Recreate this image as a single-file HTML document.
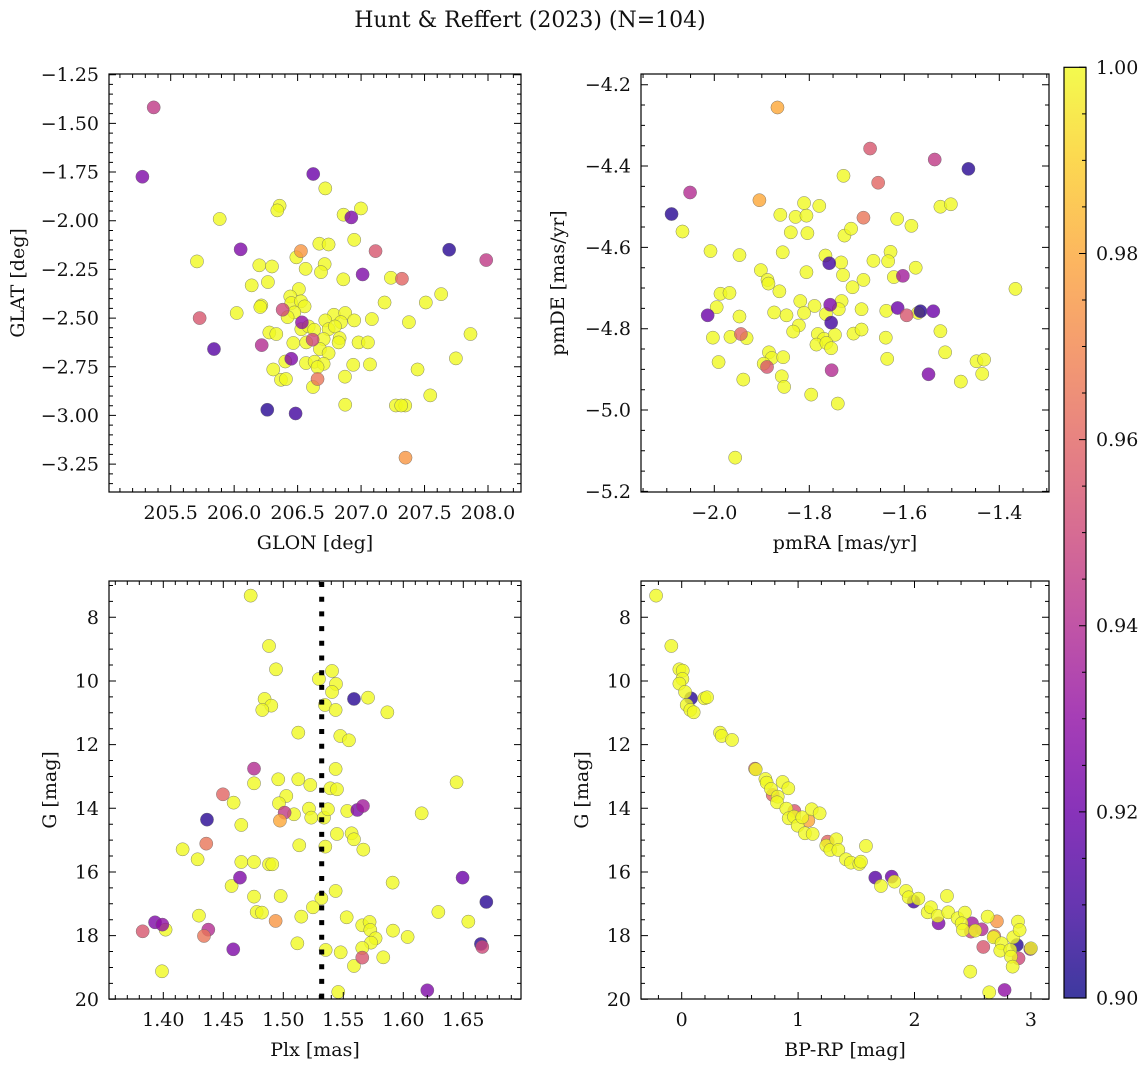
<!DOCTYPE html>
<html><head><meta charset="utf-8"><style>
html,body{margin:0;padding:0;background:#fff;}
svg text{font-family:"DejaVu Serif","Liberation Serif",serif;fill:#111;}
</style></head><body>
<svg id="fig" width="1148" height="1067" viewBox="0 0 1148 1067" xmlns="http://www.w3.org/2000/svg">
<defs>
<linearGradient id="plasma" x1="0" y1="1" x2="0" y2="0">
<stop offset="0" stop-color="#0d0887"/><stop offset="0.1" stop-color="#41049d"/><stop offset="0.2" stop-color="#6a00a8"/><stop offset="0.3" stop-color="#8f0da4"/><stop offset="0.4" stop-color="#b12a90"/><stop offset="0.5" stop-color="#cc4778"/><stop offset="0.6" stop-color="#e16462"/><stop offset="0.7" stop-color="#f2844b"/><stop offset="0.8" stop-color="#fca636"/><stop offset="0.9" stop-color="#fcce25"/><stop offset="1" stop-color="#f0f921"/>
</linearGradient>
</defs>
<text x="530" y="27" font-size="22" text-anchor="middle">Hunt &amp; Reffert (2023) (N=104)</text>
</svg>
<script>
// ---- Panel 1: GLON / GLAT ----
const p1LonHi=[206.718,206.358,206.340,206.999,206.862,205.886,206.946,206.671,206.744,205.707,206.490,206.198,206.298,206.563,206.713,206.684,206.860,207.235,206.138,206.266,206.510,206.442,206.450,206.526,206.555,206.214,206.206,206.020,206.474,206.421,207.185,207.510,207.631,206.786,206.875,206.718,206.841,206.946,207.085,207.377,206.529,206.587,206.631,206.744,206.794,206.277,206.332,207.862,206.705,206.831,206.823,206.466,206.568,206.980,207.054,206.676,206.744,206.403,206.566,206.634,206.705,206.657,206.938,207.070,206.308,207.445,207.747,206.369,206.408,206.873,206.621,207.545,206.875,207.274,207.348,207.316];
const p1LatHi=[-1.834,-1.923,-1.947,-1.937,-1.969,-1.991,-2.098,-2.118,-2.122,-2.209,-2.188,-2.229,-2.235,-2.247,-2.223,-2.264,-2.301,-2.293,-2.332,-2.315,-2.351,-2.389,-2.423,-2.414,-2.440,-2.435,-2.443,-2.474,-2.471,-2.495,-2.420,-2.420,-2.377,-2.483,-2.474,-2.512,-2.521,-2.512,-2.505,-2.521,-2.557,-2.543,-2.560,-2.557,-2.543,-2.574,-2.582,-2.582,-2.608,-2.603,-2.625,-2.628,-2.625,-2.625,-2.625,-2.659,-2.680,-2.723,-2.731,-2.724,-2.735,-2.752,-2.740,-2.738,-2.764,-2.764,-2.707,-2.817,-2.813,-2.801,-2.854,-2.897,-2.945,-2.949,-2.949,-2.949];
const p1Lon=[205.366,205.277,206.623,206.923,206.051,206.526,207.114,207.694,207.986,207.012,207.322,205.728,206.382,206.534,206.618,206.217,205.841,206.450,206.657,206.261,206.484,207.350];
const p1Lat=[-1.418,-1.774,-1.760,-1.983,-2.147,-2.156,-2.156,-2.149,-2.202,-2.276,-2.298,-2.500,-2.457,-2.522,-2.611,-2.639,-2.659,-2.709,-2.813,-2.971,-2.990,-3.217];
const p1Prob=[0.945,0.925,0.92,0.925,0.925,0.975,0.955,0.905,0.945,0.925,0.96,0.955,0.95,0.93,0.95,0.94,0.915,0.925,0.965,0.905,0.91,0.975];
const p1XTicks=["205.5","206.0","206.5","207.0","207.5","208.0"];
const p1YTicks=["-1.25","-1.50","-1.75","-2.00","-2.25","-2.50","-2.75","-3.00","-3.25"];

// ---- Panel 2: pmRA / pmDE ----
const p2RaHi=[-1.728,-1.811,-1.779,-1.861,-1.829,-1.806,-1.839,-1.804,-1.726,-1.712,-1.615,-1.585,-1.524,-1.502,-2.067,-2.008,-1.947,-1.856,-1.766,-1.733,-1.665,-1.629,-1.634,-1.576,-1.902,-1.806,-1.888,-1.886,-1.729,-1.686,-1.622,-1.863,-1.709,-1.987,-1.968,-1.366,-1.995,-1.819,-1.789,-1.732,-1.738,-1.765,-1.874,-1.848,-1.811,-1.690,-1.638,-1.571,-1.947,-1.822,-1.834,-2.003,-1.966,-1.932,-1.782,-1.769,-1.746,-1.707,-1.690,-1.639,-1.524,-1.785,-1.764,-1.754,-1.885,-1.879,-1.855,-1.896,-1.514,-1.636,-1.991,-1.448,-1.432,-1.436,-1.858,-1.939,-1.853,-1.481,-1.796,-1.740,-1.956];
const p2DeHi=[-4.424,-4.491,-4.498,-4.520,-4.525,-4.522,-4.563,-4.565,-4.571,-4.554,-4.530,-4.547,-4.500,-4.494,-4.561,-4.609,-4.619,-4.612,-4.620,-4.637,-4.633,-4.611,-4.634,-4.650,-4.656,-4.661,-4.680,-4.689,-4.668,-4.680,-4.673,-4.708,-4.698,-4.714,-4.712,-4.702,-4.747,-4.732,-4.744,-4.732,-4.752,-4.764,-4.760,-4.767,-4.761,-4.752,-4.756,-4.761,-4.770,-4.792,-4.807,-4.822,-4.820,-4.823,-4.813,-4.825,-4.815,-4.812,-4.802,-4.822,-4.806,-4.839,-4.835,-4.848,-4.858,-4.872,-4.870,-4.886,-4.858,-4.874,-4.882,-4.880,-4.876,-4.911,-4.917,-4.925,-4.943,-4.930,-4.962,-4.984,-5.117];
const p2Ra=[-1.867,-1.672,-1.536,-1.465,-2.051,-2.090,-1.905,-1.655,-1.686,-1.758,-1.603,-2.014,-1.756,-1.754,-1.614,-1.595,-1.566,-1.539,-1.944,-1.889,-1.753,-1.549];
const p2De=[-4.256,-4.357,-4.384,-4.407,-4.465,-4.518,-4.484,-4.441,-4.527,-4.639,-4.670,-4.767,-4.741,-4.785,-4.749,-4.767,-4.757,-4.757,-4.813,-4.894,-4.902,-4.912];
const p2Prob=[0.98,0.955,0.945,0.905,0.94,0.905,0.98,0.96,0.965,0.91,0.935,0.92,0.925,0.91,0.92,0.955,0.905,0.92,0.96,0.955,0.94,0.925];
const p2XTicks=["-2.0","-1.8","-1.6","-1.4"];
const p2YTicks=["-4.2","-4.4","-4.6","-4.8","-5.0","-5.2"];

// ---- Panel 3: Plx / G ----
const p3PlxHi=[1.4728,1.4881,1.4939,1.5297,1.5406,1.5439,1.5406,1.5347,1.5436,1.5706,1.5867,1.4844,1.4900,1.4825,1.5125,1.5475,1.5547,1.5436,1.4756,1.4958,1.5125,1.5225,1.5392,1.5447,1.6444,1.4586,1.5025,1.4964,1.5089,1.5214,1.5233,1.5339,1.5372,1.5533,1.6153,1.4650,1.5447,1.5569,1.5589,1.5667,1.5133,1.5350,1.4161,1.4286,1.4650,1.4756,1.4881,1.4908,1.5911,1.4569,1.4756,1.4978,1.5436,1.5317,1.5247,1.4778,1.4822,1.5150,1.4297,1.5528,1.6292,1.6542,1.4019,1.5658,1.5719,1.5725,1.5769,1.5731,1.5914,1.6036,1.5117,1.5353,1.5478,1.5658,1.5833,1.5589,1.3989,1.5458];
const p3GHi=[7.319,8.901,9.634,9.937,9.686,10.094,10.346,10.754,10.911,10.524,10.984,10.565,10.775,10.911,11.623,11.728,11.864,12.764,13.215,13.089,13.089,13.267,13.372,13.403,13.183,13.822,13.613,13.843,14.188,14.010,14.293,14.293,14.031,14.084,14.157,14.524,14.806,14.785,14.974,15.298,15.162,15.204,15.288,15.602,15.686,15.686,15.759,15.759,16.335,16.440,16.775,16.754,16.597,16.827,17.110,17.257,17.277,17.403,17.372,17.424,17.257,17.560,17.812,17.675,17.571,17.822,18.084,18.220,17.843,18.042,18.241,18.450,18.524,18.387,18.681,18.953,19.120,19.770];
const p3Plx=[1.4756,1.4497,1.4364,1.5011,1.4972,1.5589,1.5617,1.5664,1.4358,1.4639,1.6494,1.6692,1.3931,1.3992,1.3828,1.4375,1.4339,1.4936,1.4583,1.5658,1.6647,1.6658,1.6200];
const p3G=[12.754,13.560,14.356,14.136,14.387,10.565,14.052,13.927,15.110,16.178,16.178,16.942,17.581,17.654,17.864,17.812,18.010,17.539,18.429,18.691,18.262,18.356,19.717];
const p3Prob=[0.94,0.96,0.905,0.945,0.98,0.905,0.925,0.935,0.965,0.925,0.92,0.905,0.925,0.93,0.955,0.94,0.965,0.975,0.925,0.955,0.905,0.95,0.925];
const p3RefPlx=[1.532];
const p3XTicks=["1.40","1.45","1.50","1.55","1.60","1.65"];
const gTicks=["8","10","12","14","16","18","20"];

// ---- Panel 4: BP-RP / G ----
const p4ColHi=[-0.220,-0.089,-0.020,0.009,0.006,-0.020,0.029,0.043,0.074,0.103,0.195,0.218,0.329,0.344,0.432,0.636,0.719,0.730,0.767,0.867,0.916,0.825,0.819,0.899,0.919,0.965,0.996,1.036,1.117,1.185,1.059,1.125,1.242,1.277,1.328,1.346,1.411,1.454,1.526,1.540,1.583,1.712,1.827,1.927,1.950,2.033,2.113,2.141,2.199,2.279,2.290,2.370,2.433,2.405,2.416,2.522,2.628,2.680,2.748,2.737,2.823,2.849,2.889,2.903,2.829,2.843,3.000,2.479,2.642];
const p4GHi=[7.319,8.901,9.634,9.675,9.937,10.084,10.346,10.754,10.911,10.984,10.545,10.513,11.623,11.728,11.853,12.775,13.079,13.194,13.393,13.173,13.372,13.634,13.812,14.010,14.314,14.262,14.545,14.283,14.031,14.157,14.785,14.806,15.173,15.309,14.974,15.309,15.602,15.707,15.749,15.675,15.183,16.440,16.304,16.597,16.796,16.838,17.267,17.110,17.382,16.754,17.267,17.455,17.277,17.613,17.822,17.843,17.403,18.052,18.241,18.471,18.450,18.052,17.560,17.822,18.660,18.974,18.398,19.131,19.780];
const p4Col=[0.080,0.630,0.782,0.968,1.088,1.254,1.663,1.804,1.993,2.207,2.494,2.577,2.485,2.708,2.685,2.591,2.880,2.894,2.995,2.774];
const p4G=[10.545,12.754,13.581,14.084,14.387,15.047,16.178,16.147,16.932,17.613,17.613,17.801,17.874,17.550,18.010,18.356,18.293,18.712,18.419,19.707];
const p4Prob=[0.905,0.96,0.96,0.955,0.98,0.96,0.915,0.92,0.91,0.925,0.935,0.94,0.95,0.975,0.965,0.955,0.905,0.95,0.925,0.93];
const p4XTicks=["0","1","2","3"];
const cbTicks=["0.90","0.92","0.94","0.96","0.98","1.00"];

const NS="http://www.w3.org/2000/svg";
const svg=document.getElementById('fig');
function mk(tag,attrs,parent){const e=document.createElementNS(NS,tag);for(const k in attrs)e.setAttribute(k,attrs[k]);(parent||svg).appendChild(e);return e;}
const stops=[[13,8,135],[65,4,157],[106,0,168],[143,13,164],[177,42,144],[204,71,120],[225,100,98],[242,132,75],[252,166,54],[252,206,37],[240,249,33]];
function plasma(p){let t=Math.max(0,Math.min(1,(p-0.9)/0.1))*10;const i=Math.min(9,Math.floor(t)),f=t-i;const a=stops[i],b=stops[i+1];return 'rgb('+[0,1,2].map(j=>Math.round(a[j]+(b[j]-a[j])*f)).join(',')+')';}
function lin(v0,p0,v1,p1){return v=>p0+(v-v0)*(p1-p0)/(v1-v0);}
function fmt(s){return s.replace('-','\u2212');}
const FS=19;

function panel(cfg){
  const g=mk('g',{});
  
  
  const {L,T,R,B,sx,sy}=cfg;
  const pg=mk('g',{},g);
  
  
  const drawSet=(xs,ys,ps)=>{for(let i=0;i<xs.length;i++){const c=mk('circle',{cx:sx(xs[i]),cy:sy(ys[i]),r:6.6,fill:plasma(ps?ps[i]:1),'fill-opacity':0.8,stroke:'#666','stroke-width':0.5,'stroke-opacity':0.8},pg);
    
    }};
  if(cfg.colorFirst){drawSet(cfg.xs,cfg.ys,cfg.ps);drawSet(cfg.xh,cfg.yh,null);}
  else{drawSet(cfg.xh,cfg.yh,null);drawSet(cfg.xs,cfg.ys,cfg.ps);}
  if(cfg.extra)cfg.extra(g);
  const fr=mk('rect',{x:L,y:T,width:R-L,height:B-T,fill:'none',stroke:'#000','stroke-width':1.2},g);
  
  
  let d='';
  cfg.xMaj.forEach(v=>{const x=sx(v);d+=`M${x},${B}v-7M${x},${T}v7`;});
  cfg.xMin.forEach(v=>{const x=sx(v);if(x>L&&x<R)d+=`M${x},${B}v-4M${x},${T}v4`;});
  cfg.yMaj.forEach(v=>{const y=sy(v);d+=`M${L},${y}h7M${R},${y}h-7`;});
  cfg.yMin.forEach(v=>{const y=sy(v);if(y>T&&y<B)d+=`M${L},${y}h4M${R},${y}h-4`;});
  const tk=mk('path',{d:d,stroke:'#000','stroke-width':1,fill:'none'},g);
  
  
  cfg.xMaj.forEach((v,i)=>{const t=mk('text',{x:sx(v),y:B+27,'font-size':FS,'text-anchor':'middle'},g);t.textContent=fmt(cfg.xLab[i]);
    
    });
  cfg.yMaj.forEach((v,i)=>{const t=mk('text',{x:L-10,y:sy(v)+6.5,'font-size':FS,'text-anchor':'end'},g);t.textContent=fmt(cfg.yLab[i]);
    
    });
  const xt=mk('text',{x:(L+R)/2,y:B+57,'font-size':FS,'text-anchor':'middle'},g);xt.textContent=cfg.xTitle;
  
  
  const yt=mk('text',{x:0,y:0,'font-size':FS,'text-anchor':'middle',transform:`translate(${cfg.yTitleX},${(T+B)/2}) rotate(-90)`},g);yt.textContent=cfg.yTitle;
  
  
}
function range(a,b,s){const r=[];for(let v=a;v<=b+1e-9;v+=s)r.push(+v.toFixed(6));return r;}

panel({name:'glon-glat-panel',L:109,T:74,R:521,B:492,sx:lin(205.5,170.7,208.0,488),sy:lin(-1.25,74.7,-3.25,464.1),
  xh:p1LonHi,yh:p1LatHi,xs:p1Lon,ys:p1Lat,ps:p1Prob,
  xMaj:p1XTicks.map(Number),xMin:range(205.0,208.3,0.1),yMaj:p1YTicks.map(Number),yMin:range(-3.4,-1.2,0.05),
  xLab:p1XTicks,yLab:p1YTicks,xTitle:'GLON [deg]',yTitle:'GLAT [deg]',yTitleX:24});
panel({name:'pm-panel',L:641,T:74,R:1049,B:492,sx:lin(-2.0,714.3,-1.4,999.3),sy:lin(-4.2,84.7,-5.2,491.4),
  xh:p2RaHi,yh:p2DeHi,xs:p2Ra,ys:p2De,ps:p2Prob,
  xMaj:p2XTicks.map(Number),xMin:range(-2.15,-1.3,0.05),yMaj:p2YTicks.map(Number),yMin:range(-5.2,-4.15,0.05),
  xLab:p2XTicks,yLab:p2YTicks,xTitle:'pmRA [mas/yr]',yTitle:'pmDE [mas/yr]',yTitleX:564});
panel({name:'plx-g-panel',L:109,T:581,R:521,B:999,sx:lin(1.40,163.3,1.65,463.3),sy:lin(8,617.3,20,999.3),
  xh:p3PlxHi,yh:p3GHi,xs:p3Plx,ys:p3G,ps:p3Prob,
  xMaj:p3XTicks.map(Number),xMin:range(1.35,1.70,0.01),yMaj:gTicks.map(Number),yMin:range(6.5,20,0.5),
  xLab:p3XTicks,yLab:gTicks,xTitle:'Plx [mas]',yTitle:'G [mag]',yTitleX:56,
  extra:(g)=>{const sx=lin(1.40,163.3,1.65,463.3);p3RefPlx.forEach(v=>{const l=mk('line',{x1:sx(v),x2:sx(v),y1:582,y2:999,stroke:'#000','stroke-width':5,'stroke-dasharray':'5 9.7'},g);
    
    });}});
panel({name:'cmd-panel',L:641,T:581,R:1049,B:999,sx:lin(0,681.7,3,1030.9),sy:lin(8,617.3,20,999.3),colorFirst:true,
  xh:p4ColHi,yh:p4GHi,xs:p4Col,ys:p4G,ps:p4Prob,
  xMaj:p4XTicks.map(Number),xMin:range(-0.4,3.2,0.2),yMaj:gTicks.map(Number),yMin:range(6.5,20,0.5),
  xLab:p4XTicks,yLab:gTicks,xTitle:'BP-RP [mag]',yTitle:'G [mag]',yTitleX:588});

const cb=mk('g',{});


const cy=lin(1.0,67.3,0.9,998);
const cr=mk('rect',{x:1064,y:67.3,width:22,height:998-67.3,fill:'url(#plasma)','fill-opacity':0.8},cb);


const cf=mk('rect',{x:1064,y:67.3,width:22,height:998-67.3,fill:'none',stroke:'#000','stroke-width':1.2},cb);


let cd='';
range(0.9,1.0,0.005).forEach(v=>{cd+=`M1086,${cy(v)}h${(Math.round(v*1000)%20===0)?-7:-4}`;});
const cbt=mk('path',{d:cd,stroke:'#000','stroke-width':1},cb);


cbTicks.forEach(s=>{const t=mk('text',{x:1096,y:cy(Number(s))+6.5,'font-size':FS},cb);t.textContent=s;
  
  });
</script>
</body></html>
